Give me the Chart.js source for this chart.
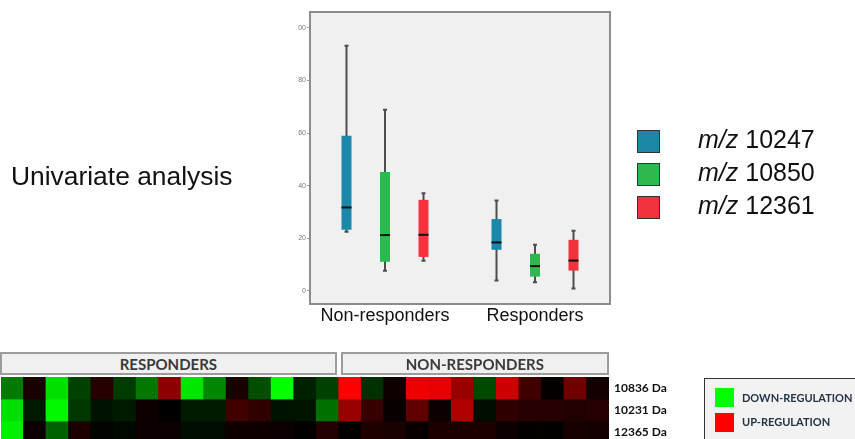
<!DOCTYPE html>
<html><head><meta charset="utf-8">
<script src="https://cdn.jsdelivr.net/npm/chart.js@4.4.0/dist/chart.umd.min.js"></script>
<style>
html,body{margin:0;padding:0;background:#fff;width:855px;height:439px;overflow:hidden;}
body{position:relative;font-family:"Liberation Sans",Arial,sans-serif;}
.abs{position:absolute;white-space:nowrap;}
#box{position:absolute;left:0;top:0;}
#heat{position:absolute;left:0;top:340px;}
.title{left:11px;top:163px;font-size:26.4px;line-height:26px;color:#111;}
.sw{left:637px;width:21px;height:21px;border:1px solid #333;}
.lt{left:698px;font-size:25px;line-height:25px;color:#111;}
.hdr{top:352px;height:19px;background:#f0f0f0;border:2px solid #9c9c9c;font-family:Lato,"Open Sans",sans-serif;font-weight:bold;font-size:15px;line-height:20px;text-align:center;color:#3a3a3a;}
.rl{left:614px;font-family:Lato,"Open Sans",sans-serif;font-weight:bold;font-size:12px;line-height:14px;color:#111;}
#reg{left:704px;top:378px;width:160px;height:70px;border:1px solid #333;background:#f2f2f2;}
.rsq{position:absolute;left:10px;width:19px;height:19px;}
.rtx{position:absolute;left:37px;font-family:Lato,"Open Sans",sans-serif;font-weight:bold;font-size:11px;line-height:14px;color:#243447;}
</style></head>
<body>
<canvas id="box" width="855" height="335"></canvas>
<canvas id="heat" width="855" height="110"></canvas>
<div class="abs title">Univariate analysis</div>
<div id="legend"></div>
<div id="heatText"></div>
<div id="reg" class="abs">
  <div class="rsq" style="top:9px;background:#00ff00"></div><div class="rtx" style="top:12px">DOWN-REGULATION</div>
  <div class="rsq" style="top:34px;background:#ff0000"></div><div class="rtx" style="top:36px">UP-REGULATION</div>
</div>
<script>
// ---------- Box plot data ----------
const categories = ["Non-responders", "Responders"];
const seriesIds = ["10247", "10850", "12361"];
const seriesColors = ["#1b88aa", "#2db94d", "#f2323c"];
// five-number summaries [min, q1, median, q3, max] per category
const mz10247 = [[22.5, 23.2, 31.7, 59.0, 93.2], [3.9, 15.6, 18.4, 27.3, 34.3]];
const mz10850 = [[7.6, 11.1, 21.2, 45.2, 68.8], [3.3, 5.4, 9.4, 14.1, 17.5]];
const mz12361 = [[11.4, 12.9, 21.3, 34.6, 37.1], [0.9, 7.7, 11.5, 19.4, 22.8]];
const yTickValues = [0, 20, 40, 60, 80, 100];
const yTickLabels = ["0", "20", "40", "60", "80", "00"];

// ---------- Heatmap data (-1 = full down-regulation/green, +1 = full up-regulation/red) ----------
const sampleLabels = ["R1","R2","R3","R4","R5","R6","R7","R8","R9","R10","R11","R12","R13","R14","R15",
                      "NR1","NR2","NR3","NR4","NR5","NR6","NR7","NR8","NR9","NR10","NR11","NR12"];
const groupLabels = ["RESPONDERS", "NON-RESPONDERS"];
const groupSizes = [15, 12];
const rowLabels = ["10836 Da", "10231 Da", "12365 Da"];
const heatRow10836 = [-0.48, 0.10, -0.88, -0.25, 0.15, -0.23, -0.47, 0.55, -0.90, -0.53, 0.10, -0.31, -1.00, -0.13, -0.25,
                       1.00, -0.19, 0.06, 0.93, 0.91, 0.60, -0.29, 0.80, 0.25, 0.02, 0.44, 0.08];
const heatRow10231 = [-0.88, -0.10, -0.97, -0.22, -0.07, -0.10, 0.06, 0.00, -0.10, -0.10, 0.25, 0.19, -0.07, -0.08, -0.44,
                       0.60, 0.21, 0.03, 0.38, 0.05, 0.69, -0.05, 0.19, 0.15, 0.15, 0.13, 0.15];
const heatRow12365 = [-0.94, 0.05, -0.38, 0.11, -0.02, -0.03, 0.05, 0.05, -0.05, -0.05, 0.06, 0.06, 0.05, 0.02, 0.13,
                       0.02, 0.12, 0.10, 0.03, 0.11, 0.11, 0.11, 0.05, 0.02, 0.02, 0.09, 0.07];

// ---------- Box plot ----------
const summaries = [mz10247, mz10850, mz12361];
const boxPlugin = {
  id: 'boxparts',
  beforeDraw(chart) {
    const {ctx, chartArea: a} = chart;
    ctx.save(); ctx.fillStyle = '#f0f0f0';
    ctx.fillRect(a.left, a.top, a.right - a.left, a.bottom - a.top); ctx.restore();
  },
  beforeDatasetsDraw(chart) {
    const {ctx} = chart; const y = chart.scales.y;
    ctx.save(); ctx.strokeStyle = '#4d4d4d'; ctx.lineWidth = 2;
    summaries.forEach((s, i) => {
      chart.getDatasetMeta(i).data.forEach((el, j) => {
        const y1 = y.getPixelForValue(s[j][0]), y2 = y.getPixelForValue(s[j][4]);
        ctx.beginPath(); ctx.moveTo(el.x, y1); ctx.lineTo(el.x, y2); ctx.stroke();
        ctx.beginPath(); ctx.moveTo(el.x - 2, y1); ctx.lineTo(el.x + 2, y1);
        ctx.moveTo(el.x - 2, y2); ctx.lineTo(el.x + 2, y2); ctx.stroke();
      });
    });
    ctx.restore();
  },
  afterDatasetsDraw(chart) {
    const {ctx, chartArea: a} = chart; const y = chart.scales.y;
    ctx.save(); ctx.strokeStyle = '#111'; ctx.lineWidth = 2;
    summaries.forEach((s, i) => {
      chart.getDatasetMeta(i).data.forEach((el, j) => {
        const ym = y.getPixelForValue(s[j][2]);
        ctx.beginPath(); ctx.moveTo(el.x - el.width / 2, ym); ctx.lineTo(el.x + el.width / 2, ym); ctx.stroke();
      });
    });
    ctx.strokeStyle = '#8c8c8c'; ctx.lineWidth = 2;
    ctx.strokeRect(a.left, a.top, a.right - a.left, a.bottom - a.top);
    ctx.restore();
  }
};

new Chart(document.getElementById('box'), {
  type: 'bar',
  data: {
    labels: categories,
    datasets: summaries.map((s, i) => ({
      label: 'm/z ' + seriesIds[i],
      data: s.map(v => [v[1], v[3]]),
      backgroundColor: seriesColors[i],
      borderWidth: 0,
      borderSkipped: false,
      categoryPercentage: 0.77,
      barPercentage: 1,
      maxBarThickness: 10
    }))
  },
  options: {
    responsive: false, animation: false, devicePixelRatio: 1,
    layout: {padding: {left: 290, right: 245, top: 12, bottom: 6}},
    plugins: {legend: {display: false}, tooltip: {enabled: false}},
    scales: {
      x: {
        grid: {display: false}, border: {display: false},
        ticks: {color: '#111', padding: -7, font: {family: '"Liberation Sans", Arial, sans-serif', size: 18}},
        afterFit(s) { s.height = 25; }
      },
      y: {
        min: -5, max: 106,
        afterBuildTicks(s) { s.ticks = yTickValues.map(v => ({value: v})); },
        ticks: {color: '#777', padding: 1, font: {family: '"Liberation Sans", Arial, sans-serif', size: 7},
                callback: (v, i) => yTickLabels[i]},
        grid: {drawOnChartArea: false, drawTicks: true, tickLength: 3, color: '#999'},
        border: {display: false},
        afterFit(s) { s.width = 20; }
      }
    }
  },
  plugins: [boxPlugin]
});

// legend
const legend = document.getElementById('legend');
const swTops = [130, 163, 196];
seriesIds.forEach((id, i) => {
  const sq = document.createElement('div');
  sq.className = 'abs sw'; sq.style.top = swTops[i] + 'px'; sq.style.background = seriesColors[i];
  legend.appendChild(sq);
  const t = document.createElement('div');
  t.className = 'abs lt'; t.style.top = (swTops[i] - 3) + 'px';
  t.innerHTML = '<i>m/z</i> ' + id;
  legend.appendChild(t);
});

// ---------- Heatmap ----------
function cellColor(v) {
  return v < 0 ? `rgb(0,${Math.round(-v * 255)},0)` : `rgb(${Math.round(v * 255)},0,0)`;
}
const heatRows = [heatRow10836, heatRow10231, heatRow12365];
const heat = new Chart(document.getElementById('heat'), {
  type: 'bar',
  data: {
    labels: sampleLabels,
    datasets: heatRows.map((r, i) => ({
      label: rowLabels[i],
      data: r.map(() => 1),
      backgroundColor: r.map(cellColor),
      borderWidth: 0,
      barPercentage: 1, categoryPercentage: 1,
      inflateAmount: 0.4
    }))
  },
  options: {
    responsive: false, animation: false, devicePixelRatio: 1,
    layout: {padding: {left: 1, right: 246, top: 37, bottom: 7}},
    plugins: {legend: {display: false}, tooltip: {enabled: false}},
    scales: {
      x: {display: false, stacked: true},
      y: {display: false, stacked: true, reverse: true, min: 0, max: 3}
    }
  }
});

// group headers and row labels from the heatmap scales
const ht = document.getElementById('heatText');
const xs = heat.scales.x, ys = heat.scales.y;
const cw = (heat.chartArea.right - heat.chartArea.left) / sampleLabels.length;
let start = 0;
groupLabels.forEach((g, gi) => {
  const l = xs.getPixelForValue(start) - cw / 2;
  const r = xs.getPixelForValue(start + groupSizes[gi] - 1) + cw / 2;
  const d = document.createElement('div');
  d.className = 'abs hdr';
  const left = gi === 0 ? l - 1 : l + 2;
  const right = gi === 0 ? r - 2 : r;
  d.style.left = left + 'px';
  d.style.width = (right - left - 4) + 'px';
  d.textContent = g;
  ht.appendChild(d);
  start += groupSizes[gi];
});
rowLabels.forEach((lab, i) => {
  const yc = 340 + ys.getPixelForValue(i + 0.5);
  const d = document.createElement('div');
  d.className = 'abs rl';
  d.style.top = (yc - 7) + 'px';
  d.textContent = lab;
  ht.appendChild(d);
});
</script>
</body></html>
